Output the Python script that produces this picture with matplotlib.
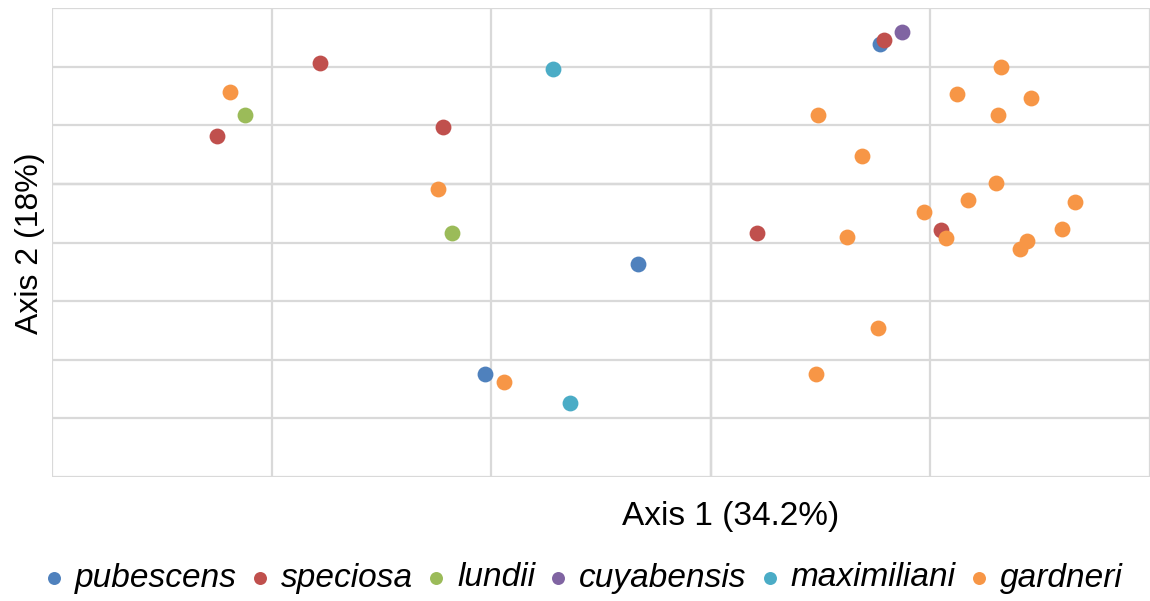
import matplotlib.pyplot as plt
import numpy as np

# species and their colours (Excel-style palette)
species = ['pubescens', 'speciosa', 'lundii', 'cuyabensis', 'maximiliani', 'gardneri']
colors = ['#4F81BD', '#C0504D', '#9BBB59', '#8064A2', '#4BACC6', '#F79646']

# ordination scores
pubescens_x = [0.077, -0.033, -0.103]
pubescens_y = [0.239, -0.137, -0.324]

speciosa_x = [-0.178, -0.225, -0.122, 0.021, 0.079, 0.105]
speciosa_y = [0.206, 0.082, 0.097, -0.084, 0.246, -0.078]

lundii_x = [-0.212, -0.118]
lundii_y = [0.118, -0.084]

cuyabensis_x = [0.087]
cuyabensis_y = [0.259]

maximiliani_x = [-0.072, -0.064]
maximiliani_y = [0.196, -0.374]

gardneri_x = [-0.219, -0.124, -0.094, 0.049, 0.069, 0.132, 0.112, 0.146, 0.131,
              0.130, 0.117, 0.097, 0.166, 0.062, 0.107, 0.160, 0.144, 0.141,
              0.076, 0.048]
gardneri_y = [0.157, -0.009, -0.338, 0.118, 0.048, 0.200, 0.154, 0.147, 0.118,
              0.002, -0.027, -0.048, -0.031, -0.090, -0.093, -0.077, -0.097, -0.111,
              -0.246, -0.324]

xs = [pubescens_x, speciosa_x, lundii_x, cuyabensis_x, maximiliani_x, gardneri_x]
ys = [pubescens_y, speciosa_y, lundii_y, cuyabensis_y, maximiliani_y, gardneri_y]

fig = plt.figure(figsize=(11.5, 6.01), dpi=100)
ax = fig.add_axes([52 / 1150, 1 - 477 / 601, 1 - 52 / 1150, (477 - 8) / 601])

for name, c, x, y in zip(species, colors, xs, ys):
    ax.scatter(x, y, s=130, color=c, linewidths=0, label=name, zorder=3)

ax.set_xlim(-0.3, 0.2)
ax.set_ylim(-0.5, 0.3)
ax.set_xticks(np.arange(-0.3, 0.21, 0.1))
ax.set_yticks(np.arange(-0.5, 0.31, 0.1))
ax.tick_params(length=0, labelbottom=False, labelleft=False)
ax.grid(True, color='#D9D9D9', linewidth=1.6, zorder=0)
ax.axhline(0, color='#BFBFBF', linewidth=1.6, zorder=1)
ax.axvline(0, color='#BFBFBF', linewidth=1.6, zorder=1)
for s in ax.spines.values():
    s.set_visible(False)

fig.text(731 / 1150, 1 - 516 / 601, 'Axis 1 (34.2%)', ha='center', va='center',
         fontsize=24, family='Liberation Sans')
fig.text(30 / 1150, 1 - 243 / 601, 'Axis 2 (18%)', ha='center', va='center',
         rotation=90, fontsize=23, family='Liberation Sans')

fig.legend(loc='center', bbox_to_anchor=(585 / 1150, 1 - 578 / 601), ncol=6,
           frameon=False, markerscale=0.82, handlelength=0.4, handletextpad=0.42,
           columnspacing=0.5, borderaxespad=0, borderpad=0,
           prop={'family': 'Liberation Sans', 'style': 'italic', 'size': 24})

fig.savefig('out.png', dpi=100)
